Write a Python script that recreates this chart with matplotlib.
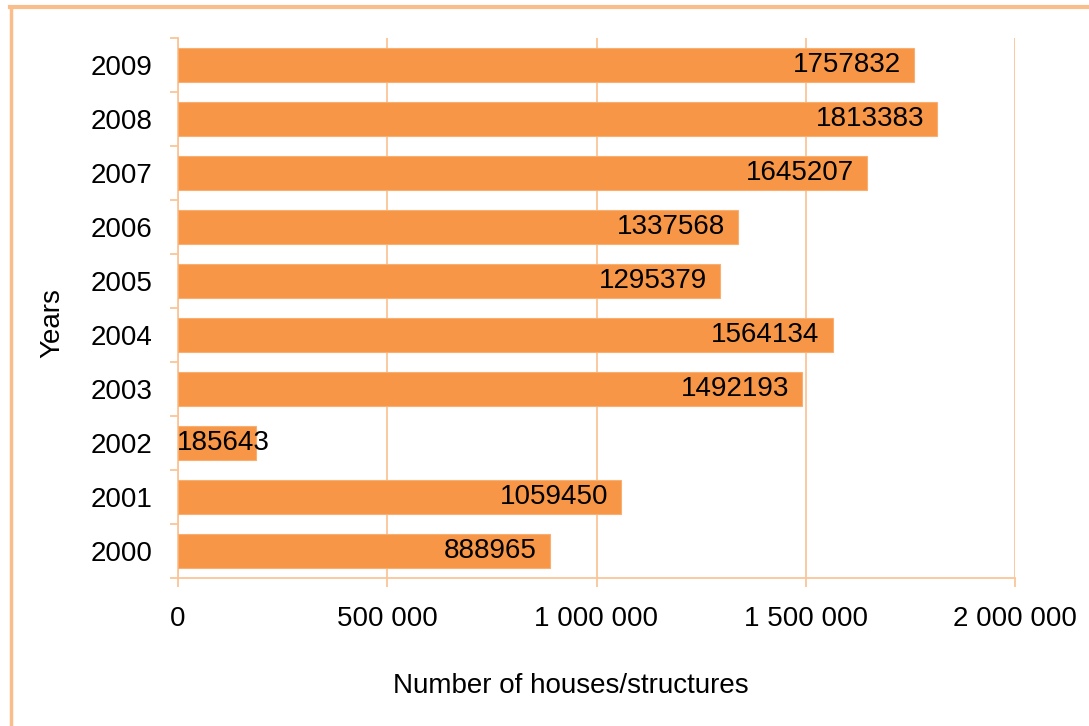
import matplotlib
matplotlib.use("Agg")
import matplotlib.pyplot as plt
from matplotlib.lines import Line2D
from matplotlib.ticker import FuncFormatter, FixedLocator

years = ["2000", "2001", "2002", "2003", "2004", "2005", "2006", "2007", "2008", "2009"]
houses = [888965, 1059450, 185643, 1492193, 1564134, 1295379, 1337568, 1645207, 1813383, 1757832]
x_ticks = [0, 500000, 1000000, 1500000, 2000000]

BAR = "#F79646"
LINE = "#FAC59A"
FRAME = "#F9BE8C"
FS = 20

plt.rcParams["font.family"] = ["Liberation Sans", "DejaVu Sans"]
W, H = 1089, 726
fig = plt.figure(figsize=(W / 100, H / 100), dpi=100)
fig.patch.set_facecolor("white")

left, right, top, bottom = 178, 1015, 38, 578
ax = fig.add_axes([left / W, (H - bottom) / H, (right - left) / W, (bottom - top) / H])

pos = list(range(len(years)))
ax.barh(pos, houses, height=0.62, color=BAR, edgecolor="#F9AE72", linewidth=0.8, zorder=3)

ax.set_xlim(0, 2000000)
ax.set_ylim(-0.5, len(years) - 0.5)

ax.xaxis.set_major_locator(FixedLocator(x_ticks))
ax.xaxis.set_major_formatter(FuncFormatter(lambda v, p: f"{v:,.0f}".replace(",", " ")))
ax.grid(axis="x", color=LINE, linewidth=1.3, zorder=0)

# category labels at centres, tick marks at the boundaries between categories
ax.set_yticks(pos)
ax.set_yticklabels(years)
ax.set_yticks([p - 0.5 for p in pos] + [len(years) - 0.5], minor=True)
ax.tick_params(axis="y", which="major", length=0, pad=18.5, labelsize=FS)
ax.tick_params(axis="y", which="minor", length=6, width=1.3, color=LINE, direction="out")
ax.tick_params(axis="x", which="major", length=6.5, width=1.3, color=LINE, direction="out",
               pad=14, labelsize=FS)

for s in ["top", "right"]:
    ax.spines[s].set_visible(False)
for s in ["left", "bottom"]:
    ax.spines[s].set_color(LINE)
    ax.spines[s].set_linewidth(1.3)

ax.set_xlabel("Number of houses/structures", fontsize=FS)
ax.xaxis.set_label_coords((571 - left) / (right - left), (bottom - 686) / (bottom - top))
ax.xaxis.label.set_va("center")
ax.set_ylabel("Years", fontsize=FS)
ax.yaxis.set_label_coords((52 - left) / (right - left), (bottom - 323) / (bottom - top))
ax.yaxis.label.set_va("center")

# value labels inside the bar end; if a label does not fit, start it at the axis
fig.canvas.draw()
renderer = fig.canvas.get_renderer()
labels = []
for p, v in zip(pos, houses):
    t = ax.annotate(str(v), xy=(v, p), xytext=(-13, 0), textcoords="offset pixels",
                    ha="right", va="center", fontsize=FS, color="black", zorder=4)
    labels.append(t)
fig.canvas.draw()
ax_bb = ax.get_window_extent(renderer)
for t, p, v in zip(labels, pos, houses):
    bb = t.get_window_extent(renderer)
    if bb.x0 < ax_bb.x0:
        t.remove()
        ax.annotate(str(v), xy=(0, p), xytext=(-1, 0), textcoords="offset pixels",
                    ha="left", va="center", fontsize=FS, color="black", zorder=4)

# chart frame along the top and left edges
fig.add_artist(Line2D([10 / W, 1], [1 - 7 / H, 1 - 7 / H], transform=fig.transFigure,
                      color=FRAME, linewidth=3))
fig.add_artist(Line2D([10.5 / W, 10.5 / W], [0, 1 - 7 / H], transform=fig.transFigure,
                      color=FRAME, linewidth=2.5))

fig.savefig("out.png", dpi=100, facecolor="white")
